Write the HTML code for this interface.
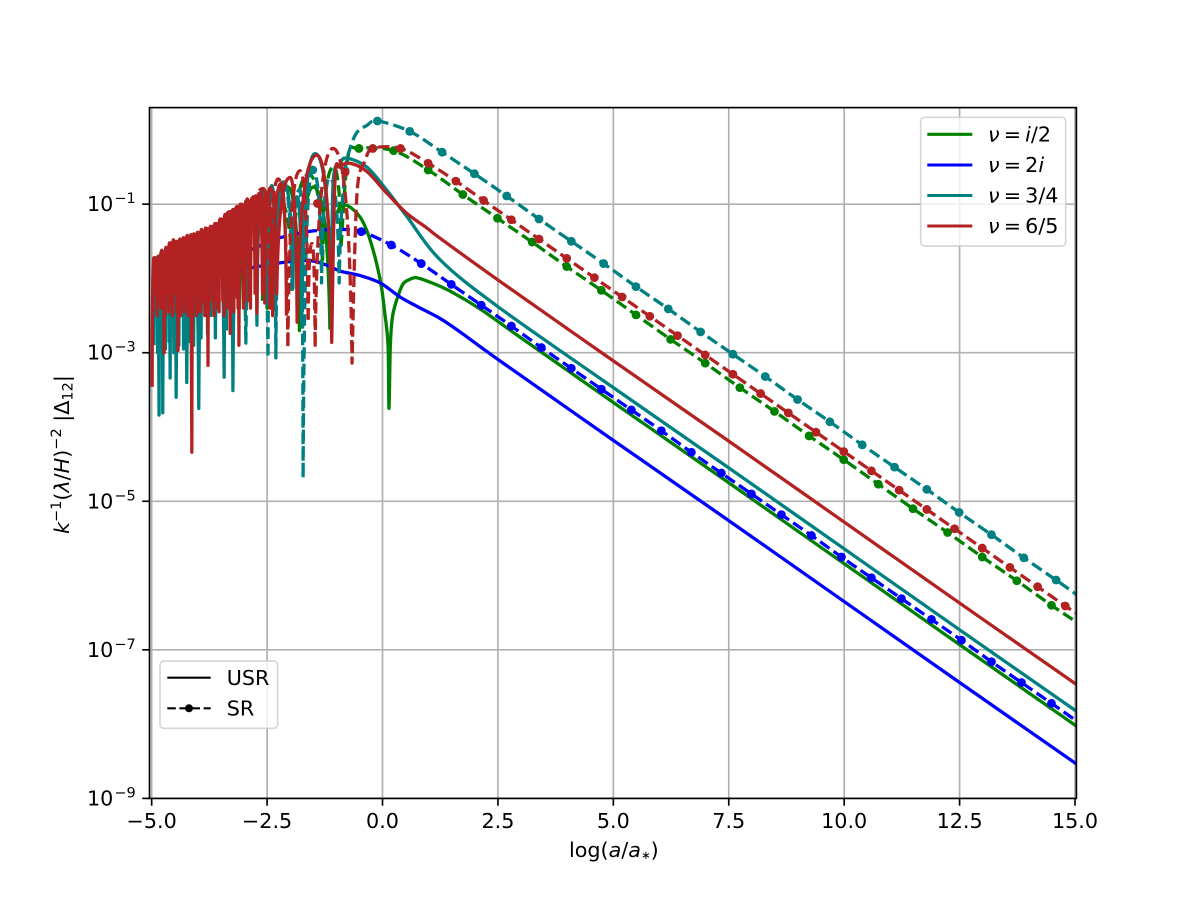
<!DOCTYPE html>
<html>
<head>
<meta charset="utf-8">
<title>Amplitude versus log scale factor</title>
<style>
html,body{margin:0;padding:0;background:#fff;}
svg{display:block;}
text{font-family:"DejaVu Sans","Liberation Sans",sans-serif;font-size:20.7px;fill:#000;}
.it{font-style:italic;}
</style>
</head>
<body>
<svg id="chart" xmlns="http://www.w3.org/2000/svg" width="1196" height="897" viewBox="0 0 1196 897">
  <rect x="0" y="0" width="1196" height="897" fill="#fff"/>
  <defs><clipPath id="plot-clip"><rect x="149.5" y="107.6" width="926.9" height="690.8"/></clipPath></defs>
  <g id="grid"></g>
  <g id="series" clip-path="url(#plot-clip)"></g>
  <g id="ticks"></g>
  <rect x="149.5" y="107.6" width="926.9" height="690.8" fill="none" stroke="#000" stroke-width="1.66"/>

  <g>
    <rect x="920.7" y="117.3" width="145" height="128.7" rx="4" fill="#fff" fill-opacity="0.8" stroke="#ccc" stroke-opacity="0.8" stroke-width="1.66"/>
    <line x1="927.3" x2="972.3" y1="134.3" y2="134.3" stroke="#008000" stroke-width="3.1"/>
    <line x1="927.3" x2="972.3" y1="165" y2="165" stroke="#0000ff" stroke-width="3.1"/>
    <line x1="927.3" x2="972.3" y1="195.5" y2="195.5" stroke="#008080" stroke-width="3.1"/>
    <line x1="927.3" x2="972.3" y1="226" y2="226" stroke="#b22222" stroke-width="3.1"/>
    <text x="988" y="141.5"><tspan class="it">ν</tspan>&#8201;=&#8201;<tspan class="it">i</tspan>/2</text>
    <text x="988" y="172"><tspan class="it">ν</tspan>&#8201;=&#8201;2<tspan class="it">i</tspan></text>
    <text x="988" y="202.5"><tspan class="it">ν</tspan>&#8201;=&#8201;3/4</text>
    <text x="988" y="233"><tspan class="it">ν</tspan>&#8201;=&#8201;6/5</text>
  </g>

  <g>
    <rect x="160" y="661" width="117.7" height="67.3" rx="4" fill="#fff" fill-opacity="0.8" stroke="#ccc" stroke-opacity="0.8" stroke-width="1.66"/>
    <line x1="167.3" x2="210.7" y1="677.7" y2="677.7" stroke="#000" stroke-width="2.1"/>
    <line x1="167.3" x2="210.7" y1="708.3" y2="708.3" stroke="#000" stroke-width="2.1" stroke-dasharray="8.5 3.6"/>
    <circle cx="189" cy="708.3" r="4" fill="#000"/>
    <text x="226.7" y="684.9">USR</text>
    <text x="226.7" y="715.5">SR</text>
  </g>

  <text x="569" y="857">log(<tspan class="it">a</tspan>/<tspan class="it">a</tspan><tspan font-size="11.5" dy="2">∗</tspan><tspan dy="-2">)</tspan></text>
  <text transform="translate(69,534) rotate(-90)" x="0" y="0"><tspan class="it">k</tspan><tspan font-size="14.5" dy="-8">−1</tspan><tspan dy="8">(</tspan><tspan class="it">λ</tspan>/<tspan class="it">H</tspan>)<tspan font-size="14.5" dy="-8">−2</tspan><tspan dy="8"> |Δ</tspan><tspan font-size="14.5" dy="3.5">12</tspan><tspan dy="-3.5">|</tspan></text>
</svg>

<script>
// Axis tick values
const xTickValues = [-5, -2.5, 0, 2.5, 5, 7.5, 10, 12.5, 15];
const xTickLabels = ['−5.0', '−2.5', '0.0', '2.5', '5.0', '7.5', '10.0', '12.5', '15.0'];
const yTickExponents = [-1, -3, -5, -7, -9];
const yTickLabels = ['−1', '−3', '−5', '−7', '−9'];

// USR, nu = i/2 : log10 amplitude, alternating null / peak then smooth decay
const usrGreenOscX = [-4.9,-4.6,-4.3,-4.0,-3.7,-3.4,-3.1,-2.8,-2.5,-2.05,-1.8,-1.5,-1.14];
const usrGreenOscY = [-2.3,-1.7,-2.4,-1.5,-2.4,-1.3,-2.4,-1.1,-2.4,-0.77,-2.7,-0.77,-2.67];
const usrGreenX = [-1.10,-0.99,-0.81,-0.49,-0.27,-0.05,0.05,0.12,0.14,0.17,0.22,0.34,0.45,0.60,0.74,1.03,1.46,2.11,3.0,5,7.5,10,12.5,15.04];
const usrGreenY = [-1.39,-1.12,-1.01,-1.17,-1.48,-2.02,-2.47,-2.90,-3.75,-2.90,-2.50,-2.23,-2.07,-2.01,-1.99,-2.05,-2.17,-2.41,-2.80,-3.67,-4.75,-5.84,-6.93,-8.03];

// SR, nu = i/2
const srGreenOscX = [-2.6,-2.3,-1.95,-1.6,-1.3,-1.06,-0.9];
const srGreenOscY = [-2.3,-0.9,-2.0,-0.6,-1.8,-0.5,-1.6];
const srGreenRiseX = [-0.75];
const srGreenRiseY = [-0.37];
const srGreenMarkX = [-0.51,0.24,0.99,1.74,2.49,3.24,3.99,4.74,5.49,6.24,6.99,7.74,8.49,9.24,9.99,10.74,11.49,12.24,12.99,13.74,14.49];
const srGreenMarkY = [-0.25,-0.28,-0.54,-0.87,-1.19,-1.51,-1.84,-2.16,-2.49,-2.82,-3.14,-3.47,-3.79,-4.12,-4.44,-4.77,-5.10,-5.42,-5.75,-6.07,-6.40];
const srGreenEndX = [15.04];
const srGreenEndY = [-6.63];

// USR, nu = 2i
const usrBlueX = [-5,-3.95,-2.87,-1.79,-1.35,-0.92,-0.49,-0.05,0.38,0.76,1.25,1.68,2.5,5,7.5,10,12.5,15.04];
const usrBlueY = [-2.21,-2.02,-1.86,-1.76,-1.79,-1.90,-1.96,-2.06,-2.25,-2.38,-2.54,-2.72,-3.09,-4.18,-5.26,-6.35,-7.44,-8.54];

// SR, nu = 2i
const srBlueRiseX = [-5,-3.95,-2.87,-2.37,-2.0,-1.5,-0.92];
const srBlueRiseY = [-2.16,-1.89,-1.62,-1.48,-1.42,-1.36,-1.34];
const srBlueMarkX = [-0.46,0.19,0.84,1.49,2.14,2.79,3.44,4.09,4.74,5.39,6.04,6.69,7.34,7.99,8.64,9.29,9.94,10.59,11.24,11.89,12.54,13.19,13.84,14.49];
const srBlueMarkY = [-1.37,-1.55,-1.80,-2.08,-2.36,-2.64,-2.93,-3.21,-3.49,-3.77,-4.05,-4.34,-4.62,-4.90,-5.18,-5.46,-5.75,-6.03,-6.31,-6.59,-6.87,-7.16,-7.44,-7.72];
const srBlueEndX = [15.04];
const srBlueEndY = [-7.96];

// USR, nu = 3/4
const usrTealDenseX = [-4.95,-4.91,-4.87,-4.83,-4.79,-4.74,-4.70,-4.65,-4.62,-4.57,-4.52,-4.46,-4.41,-4.36,-4.31,-4.26,-4.20,-4.14,-4.09,-4.03,-3.93,-3.85,-3.79,-3.70,-3.62,-3.50,-3.38];
const usrTealDenseY = [-2.9,-1.8,-3.0,-1.75,-2.8,-1.7,-2.95,-1.65,-2.85,-1.6,-3.0,-1.55,-2.9,-1.52,-2.95,-1.5,-2.85,-1.46,-2.9,-1.44,-2.8,-1.38,-2.75,-1.34,-2.8,-1.25,-2.7];
const usrTealOscX = [-4.98,-4.92,-4.84,-4.80,-4.76,-4.68,-4.60,-4.54,-4.47,-4.36,-4.24,-4.11,-3.98,-3.85,-3.72,-3.58,-3.43,-3.34,-3.24,-3.10,-2.96,-2.84,-2.72,-2.60,-2.48,-2.40,-2.31,-2.15,-1.94,-1.85,-1.75,-1.46,-1.11];
const usrTealOscY = [-2.3,-1.72,-3.84,-1.66,-3.81,-1.60,-3.34,-1.52,-3.60,-1.48,-3.40,-1.42,-3.75,-1.36,-2.5,-1.28,-3.33,-1.15,-3.51,-1.05,-2.4,-0.95,-2.63,-0.82,-2.3,-0.75,-2.3,-0.70,-2.13,-0.9,-2.6,-0.32,-2.56];
const usrTealX = [-1.07,-0.92,-0.78,-0.34,0.09,0.52,1.25,2.5,5,7.5,10,12.5,15.04];
const usrTealY = [-0.72,-0.46,-0.38,-0.50,-0.81,-1.16,-1.75,-2.38,-3.47,-4.55,-5.64,-6.73,-7.83];

// SR, nu = 3/4
const srTealOscX = [-3.4,-3.2,-2.96,-2.72,-2.48,-2.40,-2.31,-2.15,-1.96,-1.79,-1.72,-1.51,-1.32,-1.14,-0.94];
const srTealOscY = [-2.4,-1.1,-2.87,-0.9,-3.07,-0.78,-3.07,-0.72,-2.2,-0.8,-4.69,-0.54,-2.06,-0.65,-2.06];
const srTealRiseX = [-0.90,-0.81,-0.72,-0.56,-0.34];
const srTealRiseY = [-1.25,-0.55,-0.28,-0.04,0.06];
const srTealMarkX = [-1.51,-0.81,-0.11,0.59,1.29,1.99,2.69,3.39,4.09,4.79,5.49,6.19,6.89,7.59,8.29,8.99,9.69,10.39,11.09,11.79,12.49,13.19,13.89,14.59];
const srTealMarkY = [-0.54,-0.55,0.12,-0.02,-0.30,-0.59,-0.89,-1.20,-1.50,-1.80,-2.11,-2.41,-2.72,-3.02,-3.32,-3.63,-3.93,-4.24,-4.54,-4.84,-5.15,-5.45,-5.76,-6.06];
const srTealEndX = [15.04];
const srTealEndY = [-6.26];

// USR, nu = 6/5
const usrRedDenseX = [-4.97,-4.93,-4.88,-4.84,-4.80,-4.76,-4.71,-4.67,-4.63,-4.59,-4.55,-4.50,-4.46,-4.41,-4.37,-4.33,-4.29,-4.25,-4.21,-4.16,-4.11,-4.07,-4.03,-3.98,-3.94,-3.90,-3.85,-3.80,-3.76,-3.70,-3.65,-3.60,-3.54,-3.49,-3.43,-3.38,-3.35,-3.28,-3.22,-3.17,-3.13,-3.08,-3.01,-2.96,-2.89,-2.83,-2.76,-2.68,-2.60,-2.50,-2.38,-2.20,-2.08];
const usrRedDenseY = [-2.45,-1.76,-2.5,-1.72,-2.4,-1.66,-2.5,-1.6,-2.45,-1.56,-2.5,-1.5,-2.45,-1.5,-2.5,-1.47,-2.45,-1.45,-2.5,-1.43,-2.45,-1.41,-2.5,-1.38,-2.45,-1.36,-2.5,-1.33,-2.45,-1.30,-2.5,-1.26,-2.45,-1.2,-2.5,-1.14,-2.4,-1.1,-2.45,-1.04,-2.4,-1.0,-2.4,-0.96,-2.3,-0.92,-2.2,-0.86,-2.2,-0.84,-2.5,-0.72,-2.5];
const usrRedOscX = [-4.99,-4.95,-4.90,-4.86,-4.82,-4.78,-4.73,-4.69,-4.65,-4.61,-4.57,-4.53,-4.48,-4.45,-4.43,-4.39,-4.35,-4.31,-4.27,-4.23,-4.18,-4.15,-4.13,-4.09,-4.05,-4.01,-3.96,-3.92,-3.87,-3.83,-3.78,-3.73,-3.68,-3.63,-3.57,-3.52,-3.46,-3.41,-3.30,-3.24,-3.19,-3.15,-3.11,-3.05,-2.98,-2.93,-2.86,-2.80,-2.72,-2.64,-2.55,-2.43,-2.29,-2.0,-1.85,-1.42,-1.10];
const usrRedOscY = [-3.46,-1.72,-2.2,-1.70,-2.3,-1.62,-3.00,-1.58,-2.2,-1.52,-2.35,-1.48,-2.2,-1.50,-2.97,-1.47,-2.25,-1.45,-2.4,-1.42,-2.3,-1.41,-4.34,-1.40,-2.2,-1.38,-2.45,-1.34,-2.3,-1.32,-3.17,-1.30,-2.3,-1.26,-2.4,-1.20,-2.3,-1.14,-2.74,-1.07,-2.25,-1.03,-2.90,-1.00,-2.3,-0.93,-2.4,-0.90,-2.47,-0.84,-2.33,-0.78,-2.20,-0.64,-2.59,-0.34,-2.86];
const usrRedX = [-1.03,-0.92,-0.70,-0.34,0.09,0.52,0.96,1.25,2.5,5,7.5,10,12.5,15.04];
const usrRedY = [-0.68,-0.50,-0.45,-0.56,-0.85,-1.12,-1.32,-1.46,-2.02,-3.11,-4.19,-5.28,-6.37,-7.47];

// SR, nu = 6/5
const srRedOscX = [-3.6,-3.3,-3.0,-2.58,-2.44,-2.26,-2.05,-1.79,-1.61,-1.53,-1.46,-1.07,-0.66];
const srRedOscY = [-2.3,-1.1,-2.3,-0.79,-2.4,-0.66,-2.93,-0.55,-2.59,-1.53,-2.93,-0.25,-3.14];
const srRedRiseX = [-0.60,-0.53,-0.38];
const srRedRiseY = [-1.6,-0.7,-0.42];
const srRedMarkX = [-1.41,-0.81,-0.21,0.39,0.99,1.59,2.19,2.79,3.39,3.99,4.59,5.19,5.79,6.39,6.99,7.59,8.19,8.79,9.39,9.99,10.59,11.19,11.79,12.39,12.99,13.59,14.19,14.79];
const srRedMarkY = [-0.99,-0.57,-0.25,-0.25,-0.45,-0.69,-0.95,-1.21,-1.47,-1.73,-1.99,-2.25,-2.51,-2.77,-3.03,-3.29,-3.55,-3.81,-4.07,-4.33,-4.59,-4.85,-5.11,-5.37,-5.63,-5.89,-6.15,-6.41];
const srRedEndX = [15.04];
const srRedEndY = [-6.51];

const NS = 'http://www.w3.org/2000/svg';
const plot = { left: 149.5, right: 1076.4, top: 107.6, bottom: 798.4 };
const xDomain = [-5.047, 15.03];
const yDomain = [-9, 0.3];

function xPx(v) {
  return plot.left + (v - xDomain[0]) * (plot.right - plot.left) / (xDomain[1] - xDomain[0]);
}
function yPx(v) {
  return plot.bottom - (v - yDomain[0]) * (plot.bottom - plot.top) / (yDomain[1] - yDomain[0]);
}
function make(tag, attrs) {
  const el = document.createElementNS(NS, tag);
  for (const k in attrs) el.setAttribute(k, attrs[k]);
  return el;
}
function f(n) { return n.toFixed(2); }

function lobeSegments(xs, ys) {
  if (!xs.length) return '';
  let d = 'M' + f(xPx(xs[0])) + ' ' + f(yPx(ys[0]));
  for (let i = 1; i < xs.length; i++) {
    const x0 = xPx(xs[i - 1]), y0 = yPx(ys[i - 1]), x1 = xPx(xs[i]), y1 = yPx(ys[i]);
    const dx = x1 - x0, dy = y1 - y0;
    if (i % 2 === 1) {
      d += 'C' + f(x0 + 0.1 * dx) + ' ' + f(y0 + 0.7 * dy) + ' ' + f(x0 + 0.45 * dx) + ' ' + f(y1) + ' ' + f(x1) + ' ' + f(y1);
    } else {
      d += 'C' + f(x0 + 0.55 * dx) + ' ' + f(y0) + ' ' + f(x0 + 0.9 * dx) + ' ' + f(y0 + 0.3 * dy) + ' ' + f(x1) + ' ' + f(y1);
    }
  }
  return d;
}
function smoothSegments(xs, ys, hasStart) {
  const px = xs.map(xPx), py = ys.map(yPx);
  let d = hasStart ? '' : 'M' + f(px[0]) + ' ' + f(py[0]);
  for (let i = 0; i < px.length - 1; i++) {
    const a = Math.max(i - 1, 0), b = Math.min(i + 2, px.length - 1);
    const c1x = px[i] + (px[i + 1] - px[a]) / 6, c1y = py[i] + (py[i + 1] - py[a]) / 6;
    const c2x = px[i + 1] - (px[b] - px[i]) / 6, c2y = py[i + 1] - (py[b] - py[i]) / 6;
    d += 'C' + f(c1x) + ' ' + f(c1y) + ' ' + f(c2x) + ' ' + f(c2y) + ' ' + f(px[i + 1]) + ' ' + f(py[i + 1]);
  }
  return d;
}
function usrPath(oscX, oscY, x, y) {
  const startX = oscX.length ? [oscX[oscX.length - 1]] : [];
  const startY = oscY.length ? [oscY[oscY.length - 1]] : [];
  return lobeSegments(oscX, oscY) + smoothSegments(startX.concat(x), startY.concat(y), oscX.length > 0);
}
function srPath(oscX, oscY, riseX, riseY, markX, markY, endX, endY) {
  const riseEnd = riseX[riseX.length - 1];
  const keep = markX.map((v, i) => i).filter(i => markX[i] > riseEnd);
  const lineX = riseX.concat(keep.map(i => markX[i]), endX);
  const lineY = riseY.concat(keep.map(i => markY[i]), endY);
  const startX = oscX.length ? [oscX[oscX.length - 1]] : [];
  const startY = oscY.length ? [oscY[oscY.length - 1]] : [];
  return lobeSegments(oscX, oscY) + smoothSegments(startX.concat(lineX), startY.concat(lineY), oscX.length > 0);
}

const gridLayer = document.getElementById('grid');
const tickLayer = document.getElementById('ticks');
const seriesLayer = document.getElementById('series');

xTickValues.forEach(function (v, i) {
  const gl = make('line', { x1: xPx(v), x2: xPx(v), y1: plot.top, y2: plot.bottom, stroke: '#b0b0b0', 'stroke-width': 1.66 });
  
  
  gridLayer.appendChild(gl);
  const tk = make('line', { x1: xPx(v), x2: xPx(v), y1: plot.bottom, y2: plot.bottom + 7.3, stroke: '#000', 'stroke-width': 1.66 });
  
  
  tickLayer.appendChild(tk);
  const tx = make('text', { x: xPx(v), y: 828, 'text-anchor': 'middle' });
  
  
  tx.textContent = xTickLabels[i];
  tickLayer.appendChild(tx);
});

yTickExponents.forEach(function (v, i) {
  const gl = make('line', { x1: plot.left, x2: plot.right, y1: yPx(v), y2: yPx(v), stroke: '#b0b0b0', 'stroke-width': 1.66 });
  
  
  gridLayer.appendChild(gl);
  const tk = make('line', { x1: plot.left - 7.3, x2: plot.left, y1: yPx(v), y2: yPx(v), stroke: '#000', 'stroke-width': 1.66 });
  
  
  tickLayer.appendChild(tk);
  const tx = make('text', { x: 87, y: yPx(v) + 7 });
  
  
  const base = make('tspan', {});
  base.textContent = '10';
  const sup = make('tspan', { 'font-size': 14.5, dy: -8, dx: 1 });
  sup.textContent = yTickLabels[i];
  tx.appendChild(base);
  tx.appendChild(sup);
  tickLayer.appendChild(tx);
});

function addLine(d, color, dashed, name) {
  const p = make('path', { d: d, fill: 'none', stroke: color, 'stroke-width': 3.3, 'stroke-linejoin': 'round' });
  if (dashed) p.setAttribute('stroke-dasharray', '11.5 5');
  
  
  seriesLayer.appendChild(p);
}
function addMarks(xs, ys, color, group) {
  const g = make('g', { fill: color });
  
  
  xs.forEach(function (x, i) {
    const c = make('circle', { cx: xPx(x), cy: yPx(ys[i]), r: 4.4 });
    
    
    g.appendChild(c);
  });
  seriesLayer.appendChild(g);
}

addLine(usrPath(usrGreenOscX, usrGreenOscY, usrGreenX, usrGreenY), '#008000', false, 'usr-line-nu-i-2');
addLine(srPath(srGreenOscX, srGreenOscY, srGreenRiseX, srGreenRiseY, srGreenMarkX, srGreenMarkY, srGreenEndX, srGreenEndY), '#008000', true, 'sr-line-nu-i-2');
addMarks(srGreenMarkX, srGreenMarkY, '#008000', 'sr-points-nu-i-2');

addLine(usrPath([], [], usrBlueX, usrBlueY), '#0000ff', false, 'usr-line-nu-2i');
addLine(srPath([], [], srBlueRiseX, srBlueRiseY, srBlueMarkX, srBlueMarkY, srBlueEndX, srBlueEndY), '#0000ff', true, 'sr-line-nu-2i');
addMarks(srBlueMarkX, srBlueMarkY, '#0000ff', 'sr-points-nu-2i');

addLine(lobeSegments(usrTealDenseX, usrTealDenseY), '#008080', false, 'usr-dense-oscillation-nu-3-4');
addLine(usrPath(usrTealOscX, usrTealOscY, usrTealX, usrTealY), '#008080', false, 'usr-line-nu-3-4');
addLine(srPath(srTealOscX, srTealOscY, srTealRiseX, srTealRiseY, srTealMarkX, srTealMarkY, srTealEndX, srTealEndY), '#008080', true, 'sr-line-nu-3-4');
addMarks(srTealMarkX, srTealMarkY, '#008080', 'sr-points-nu-3-4');

addLine(srPath(srRedOscX, srRedOscY, srRedRiseX, srRedRiseY, srRedMarkX, srRedMarkY, srRedEndX, srRedEndY), '#b22222', true, 'sr-line-nu-6-5');
addMarks(srRedMarkX, srRedMarkY, '#b22222', 'sr-points-nu-6-5');
addLine(lobeSegments(usrRedDenseX, usrRedDenseY), '#b22222', false, 'usr-dense-oscillation-nu-6-5');
addLine(usrPath(usrRedOscX, usrRedOscY, usrRedX, usrRedY), '#b22222', false, 'usr-line-nu-6-5');
</script>
</body>
</html>
